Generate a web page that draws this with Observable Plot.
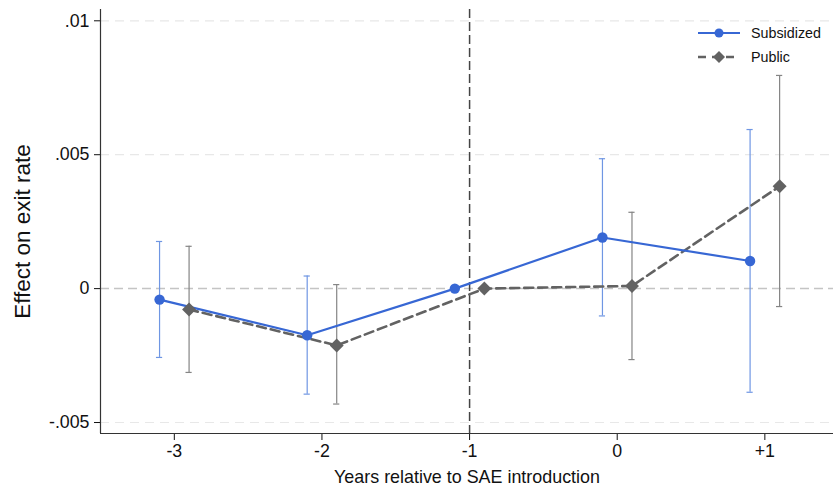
<!DOCTYPE html>
<html><head><meta charset="utf-8">
<script src="https://cdn.jsdelivr.net/npm/d3@7"></script>
<script src="https://cdn.jsdelivr.net/npm/@observablehq/plot@0.6"></script>
<style>
body{margin:0;background:#fff;font-family:"Liberation Sans",Arial,sans-serif}
#wrap{position:relative;width:833px;height:491px}
#legend{position:absolute;left:698px;top:21px;font-size:14.3px;color:#111}
#legend div{display:flex;align-items:center;height:24px}
#legend svg{margin-right:11px}
</style>
</head><body><div id="wrap"><div id="legend"></div></div>
<script>
// ---- data ----
const years = [-3, -2, -1, 0, 1];
const yearLabels = ["-3", "-2", "-1", "0", "+1"];
const subsidized   = [-0.00041, -0.00174, 0, 0.00191, 0.00103];
const subsidizedLo = [-0.00257, -0.00394, 0, -0.00102, -0.00387];
const subsidizedHi = [ 0.00176,  0.00047, 0,  0.00485,  0.00594];
const publicEst    = [-0.00078, -0.00212, 0, 0.00010, 0.00382];
const publicLo     = [-0.00313, -0.00431, 0, -0.00265, -0.00067];
const publicHi     = [ 0.00158,  0.00015, 0,  0.00285,  0.00796];
const yTicks = [-0.005, 0, 0.005, 0.01];
const yTickLabels = ["-.005", "0", ".005", ".01"];
const seriesNames = ["Subsidized", "Public"];

// ---- styling ----
const blue = "#3767d4", blueCI = "#6f96e3";
const gray = "#626262", grayCI = "#858585";
const offset = 0.1;   // horizontal dodge between the two series
const capHalf = 0.021;
const xDomain = [-3.5, 1.465];
const yDomain = [-0.00541, 0.010422];

const build = (est, lo, hi, shift) => years.map((t, i) => ({
  x: t + shift, y: est[i], lo: lo[i], hi: hi[i]
}));
const sub = build(subsidized, subsidizedLo, subsidizedHi, -offset);
const pub = build(publicEst, publicLo, publicHi, offset);
const subCI = sub.filter(d => d.lo !== d.hi);
const pubCI = pub.filter(d => d.lo !== d.hi);
const caps = (arr) => arr.flatMap(d => [{x: d.x, y: d.lo}, {x: d.x, y: d.hi}]);

const chart = Plot.plot({
  width: 833, height: 491,
  marginLeft: 100, marginRight: 0, marginTop: 9, marginBottom: 58,
  style: {fontSize: "17.8px", fontFamily: '"Liberation Sans", Arial, sans-serif', color: "#111", background: "#fff"},
  x: {domain: xDomain, ticks: years, tickFormat: (d) => yearLabels[years.indexOf(d)], tickSize: 7, tickPadding: 4, label: null},
  y: {domain: yDomain, ticks: yTicks, tickFormat: (d) => yTickLabels[yTicks.indexOf(d)], tickSize: 6, tickPadding: 5, label: null},
  marks: [
    Plot.ruleY(yTicks.filter(v => v !== 0), {stroke: "#e8e8e8", strokeWidth: 1.2, strokeDasharray: "9,6"}),
    Plot.ruleY([0], {stroke: "#c4c4c4", strokeWidth: 1.5, strokeDasharray: "9,5"}),
    Plot.ruleX([-1], {stroke: "#444", strokeWidth: 1.5, strokeDasharray: "9,4"}),
    // confidence intervals
    Plot.ruleX(subCI, {x: "x", y1: "lo", y2: "hi", stroke: blueCI, strokeWidth: 1.2}),
    Plot.ruleY(caps(subCI), {y: "y", x1: d => d.x - capHalf, x2: d => d.x + capHalf, stroke: blueCI, strokeWidth: 1.2}),
    Plot.ruleX(pubCI, {x: "x", y1: "lo", y2: "hi", stroke: grayCI, strokeWidth: 1.2}),
    Plot.ruleY(caps(pubCI), {y: "y", x1: d => d.x - capHalf, x2: d => d.x + capHalf, stroke: grayCI, strokeWidth: 1.2}),
    // lines
    Plot.line(pub, {x: "x", y: "y", stroke: gray, strokeWidth: 2.6, strokeDasharray: "9,5"}),
    Plot.line(sub, {x: "x", y: "y", stroke: blue, strokeWidth: 2.2}),
    // markers
    Plot.dot(pub, {x: "x", y: "y", symbol: "diamond2", r: 6.3, fill: gray, stroke: "none"}),
    Plot.dot(sub, {x: "x", y: "y", symbol: "circle", r: 5.2, fill: blue, stroke: "none"}),
    // axis lines
    Plot.ruleX([xDomain[0]], {stroke: "#333", strokeWidth: 1.2}),
    Plot.ruleY([yDomain[0]], {stroke: "#333", strokeWidth: 1.2}),
    // axis titles
    Plot.text(["Effect on exit rate"], {frameAnchor: "left", textAnchor: "middle", lineAnchor: "middle", dx: -78, dy: 10, rotate: -90, fontSize: 22.5, fill: "#111"}),
    Plot.text(["Years relative to SAE introduction"], {frameAnchor: "bottom", dy: 49, fontSize: 17.9, fill: "#111"})
  ]
});
document.getElementById("wrap").appendChild(chart);

// legend
const legend = document.getElementById("legend");
legend.innerHTML =
  `<div><svg width="42" height="12"><line x1="0" y1="6" x2="42" y2="6" stroke="${blue}" stroke-width="2.2"/><circle cx="21" cy="6" r="4.5" fill="${blue}"/></svg>${seriesNames[0]}</div>` +
  `<div><svg width="42" height="14"><line x1="0" y1="7" x2="42" y2="7" stroke="${gray}" stroke-width="2.6" stroke-dasharray="8,6"/><path d="M21,1 L27,7 L21,13 L15,7Z" fill="${gray}"/></svg>${seriesNames[1]}</div>`;
</script>
</body></html>
